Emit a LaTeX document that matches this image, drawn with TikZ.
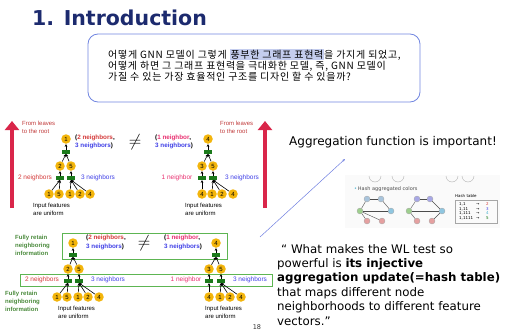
\documentclass[tikz,border=0pt]{standalone}
\usepackage{fontspec}
\setmainfont{DejaVu Sans}
\newfontfamily\arialfont{Liberation Sans}
\newfontfamily\kofont[LetterSpace=7]{Noto Sans CJK KR}
\usetikzlibrary{arrows.meta}
\definecolor{titlenavy}{HTML}{1C2A6E}
\definecolor{boxblue}{HTML}{7186E0}
\definecolor{hlblue}{HTML}{C4CDEE}
\definecolor{arrowred}{HTML}{D9264A}
\definecolor{txtred}{HTML}{C03A3A}
\definecolor{nbred}{HTML}{D43A3A}
\definecolor{nbblue}{HTML}{3F3FE6}
\definecolor{nbpink}{HTML}{E83070}
\definecolor{fgold}{HTML}{F3B50C}
\definecolor{barg}{HTML}{1B7A1B}
\definecolor{boxgreen}{HTML}{5DB552}
\definecolor{txtgreen}{HTML}{4A8A3C}
\definecolor{lineblue}{HTML}{6F7FE0}
\definecolor{wlcyan}{HTML}{4AB3D0}
\definecolor{wlblue}{HTML}{A8C4DC}
\definecolor{wlblue2}{HTML}{8FC6E0}
\definecolor{wlgreen}{HTML}{9ECF8E}
\definecolor{wlred}{HTML}{E5A0A0}
\definecolor{wlpurple}{HTML}{A8A8E6}

\newcommand{\hlkr}[1]{{\fboxsep=0.8pt\colorbox{hlblue}{#1}}}

\tikzset{
  fnode/.style={circle, fill=fgold, inner sep=0pt, minimum size=9.5pt, font=\arialfont\fontsize{6}{6}\selectfont},
  aggbar/.style={rectangle, fill=barg, inner sep=0pt, minimum width=8.5pt, minimum height=3.5pt},
  feed/.style={-{Stealth[length=3pt,width=2.6pt]}, line width=0.6pt, black},
  nblabel/.style={font=\arialfont\fontsize{6.5}{7}\selectfont, inner sep=0pt},
  pairlabel/.style={font=\arialfont\bfseries\fontsize{6.3}{8.5}\selectfont, align=left, inner sep=0pt, anchor=west},
  smallnote/.style={font=\arialfont\fontsize{6}{8}\selectfont, align=left, inner sep=0pt, anchor=west},
  retainnote/.style={font=\arialfont\bfseries\fontsize{6}{8}\selectfont, text=txtgreen, align=left, inner sep=0pt, anchor=west},
  bigarrow/.style={arrowred, line width=4pt, -{Triangle[length=9pt,width=14pt]}},
  greenframe/.style={draw=boxgreen, line width=0.9pt},
  neqsign/.style={font=\fontsize{17}{17}\selectfont, inner sep=0pt},
  wlnode/.style={circle, draw=gray!70, line width=0.3pt, inner sep=0pt, minimum size=6pt},
  wledge/.style={gray!60!black, line width=0.4pt},
  hashtext/.style={anchor=west, inner sep=0pt, font=\fontsize{4}{4.5}\selectfont},
}

\begin{document}
\begin{tikzpicture}[x=1pt, y=-1pt]
\useasboundingbox (0,0) rectangle (507,332);

% Title
\node[anchor=west, inner sep=0pt, text=titlenavy, font=\bfseries\fontsize{20.5}{22}\selectfont] (title) at (32,18) {1. Introduction};

% Question box
\draw[boxblue, line width=0.8pt, rounded corners=10pt] (88,34) rectangle (420,102);
\node[anchor=north west, inner sep=0pt, align=left, font=\kofont\fontsize{10}{10}\selectfont] (question) at (108,49)
  {어떻게 GNN 모델이 그렇게 \hlkr{풍부한 그래프 표현력}을 가지게 되었고,\\
   어떻게 하면 그 그래프 표현력을 극대화한 모델, 즉, GNN 모델이\\
   가질 수 있는 가장 효율적인 구조를 디자인 할 수 있을까?};

% --- Top: two trees ---
\coordinate (upL0) at (12,208);
\coordinate (upL1) at (12,121);
\coordinate (upR0) at (265,208);
\coordinate (upR1) at (265,121);
\draw[bigarrow] (upL0) -- (upL1);
\draw[bigarrow] (upR0) -- (upR1);
\node[smallnote, text=txtred] (leavesL) at (22,127.5) {From leaves\\to the root};
\node[smallnote, text=txtred] (leavesR) at (220,127.5) {From leaves\\to the root};

% left tree
\node[fnode] (a1) at (66,139) {1};
\node[aggbar] (ab0) at (66,152) {};
\node[fnode] (a2) at (60,166) {2};
\node[fnode] (a5) at (71,166) {5};
\node[aggbar] (ab2) at (60,178) {};
\node[aggbar] (ab5) at (71,178) {};
\foreach \x/\v [count=\i] in {49/1,59/5,70/1,80/2,90/4}
  \node[fnode] (al\i) at (\x,194) {\v};
\draw[feed] (ab0) -- (a1);
\draw[feed] (ab2) -- (a2);
\draw[feed] (ab5) -- (a5);
\foreach \c in {a2,a5} \draw[feed] (\c) -- (ab0.south);
\foreach \i in {1,2} \draw[feed] (al\i) -- (ab2.south);
\foreach \i in {3,4,5} \draw[feed] (al\i) -- (ab5.south);

% right tree
\node[fnode] (b4) at (208,139) {4};
\node[aggbar] (bb0) at (208,152) {};
\node[fnode] (b3) at (202,166) {3};
\node[fnode] (b5) at (213,166) {5};
\node[aggbar] (bb3) at (202,178) {};
\node[aggbar] (bb5) at (213,178) {};
\foreach \x/\v [count=\i] in {202/4,212/1,222/2,233/4}
  \node[fnode] (bl\i) at (\x,194) {\v};
\draw[feed] (bb0) -- (b4);
\draw[feed] (bb3) -- (b3);
\draw[feed] (bb5) -- (b5);
\foreach \c in {b3,b5} \draw[feed] (\c) -- (bb0.south);
\draw[feed] (bl1) -- (bb3.south);
\foreach \i in {2,3,4} \draw[feed] (bl\i) -- (bb5.south);

\node[nblabel, text=nbred] (a2n) at (35,178) {2 neighbors};
\node[nblabel, text=nbblue] (a3n) at (98,178) {3 neighbors};
\node[nblabel, text=nbpink] (b1n) at (177,178) {1 neighbor};
\node[nblabel, text=nbblue] (b3n) at (242,178) {3 neighbors};
\node[pairlabel] (pairA) at (75,142) {(\textcolor{nbred}{2 neighbors},\\\textcolor{nbblue}{3 neighbors})};
\node[neqsign] (neqA) at (135,142) {$\neq$};
\node[pairlabel] (pairB) at (155,142) {(\textcolor{nbpink}{1 neighbor},\\\textcolor{nbblue}{3 neighbors})};
\node[smallnote] (inA) at (33,209) {Input features\\are uniform};
\node[smallnote] (inB) at (185,209) {Input features\\are uniform};

% --- Bottom: fully retained trees ---
\draw[greenframe] (62,233) rectangle (227,259);
\draw[greenframe] (20,274) rectangle (272,286);

% left tree
\node[fnode] (c1) at (73,243) {1};
\node[aggbar] (cb0) at (73,255) {};
\node[fnode] (c2) at (68,269) {2};
\node[fnode] (c5) at (79,269) {5};
\node[aggbar] (cb2) at (68,281) {};
\node[aggbar] (cb5) at (79,281) {};
\foreach \x/\v [count=\i] in {57/1,67/5,78/1,88/2,99/4}
  \node[fnode] (cl\i) at (\x,297) {\v};
\draw[feed] (cb0) -- (c1);
\draw[feed] (cb2) -- (c2);
\draw[feed] (cb5) -- (c5);
\foreach \c in {c2,c5} \draw[feed] (\c) -- (cb0.south);
\foreach \i in {1,2} \draw[feed] (cl\i) -- (cb2.south);
\foreach \i in {3,4,5} \draw[feed] (cl\i) -- (cb5.south);

% right tree
\node[fnode] (d4) at (216,243) {4};
\node[aggbar] (db0) at (216,255) {};
\node[fnode] (d3) at (209,269) {3};
\node[fnode] (d5) at (221,269) {5};
\node[aggbar] (db3) at (209,281) {};
\node[aggbar] (db5) at (221,281) {};
\foreach \x/\v [count=\i] in {209/4,220/1,230/2,241/4}
  \node[fnode] (dl\i) at (\x,297) {\v};
\draw[feed] (db0) -- (d4);
\draw[feed] (db3) -- (d3);
\draw[feed] (db5) -- (d5);
\foreach \c in {d3,d5} \draw[feed] (\c) -- (db0.south);
\draw[feed] (dl1) -- (db3.south);
\foreach \i in {2,3,4} \draw[feed] (dl\i) -- (db5.south);

\node[pairlabel] (pairC) at (86,242.5) {(\textcolor{nbred}{2 neighbors},\\\textcolor{nbblue}{3 neighbors})};
\node[neqsign] (neqC) at (144,243) {$\neq$};
\node[pairlabel] (pairD) at (164,242.5) {(\textcolor{nbpink}{1 neighbor},\\\textcolor{nbblue}{3 neighbors})};
\node[nblabel, text=nbred] (c2n) at (42,280) {2 neighbors};
\node[nblabel, text=nbblue] (c3n) at (108,280) {3 neighbors};
\node[nblabel, text=nbpink] (d1n) at (186,280) {1 neighbor};
\node[nblabel, text=nbblue] (d3n) at (250,280) {3 neighbors};
\node[retainnote] (retainA) at (15,245) {Fully retain\\neighboring\\information};
\node[retainnote] (retainB) at (5,301) {Fully retain\\neighboring\\information};
\node[smallnote] (inC) at (58,312) {Input features\\are uniform};
\node[smallnote] (inD) at (205,312) {Input features\\are uniform};
\node[inner sep=0pt, text=black!80, font=\fontsize{6.5}{7}\selectfont] (pagenum) at (257,327) {18};

% --- Right side ---
\node[anchor=west, inner sep=0pt, font=\fontsize{12}{14}\selectfont] (aggtitle) at (289,142) {Aggregation function is important!};
\coordinate (pointA) at (260,237);
\coordinate (pointB) at (345,159);
\draw[lineblue, line width=0.5pt, -{Stealth[length=3pt,width=2.4pt]}] (pointA) -- (pointB);

% WL picture
\fill[gray!4] (345,175) rectangle (500,228);
\foreach \x in {375,398,452,468}
  \draw[gray!60, line width=0.4pt] (\x-6,176) arc[start angle=180, end angle=0, radius=6];
\node[anchor=west, inner sep=0pt, text=gray!60!black, font=\fontsize{5}{5}\selectfont] (hashcap) at (354,189) {\textcolor{wlcyan}{\textbullet}\,Hash aggregated colors};

\node[wlnode, fill=wlblue] (g1a) at (367,199) {};
\node[wlnode, fill=wlblue] (g1b) at (381,199) {};
\node[wlnode, fill=wlgreen] (g1c) at (360,211) {};
\node[wlnode, fill=wlblue2] (g1d) at (391,211) {};
\node[wlnode, fill=wlred] (g1e) at (367,221) {};
\node[wlnode, fill=wlred] (g1f) at (382,221) {};
\foreach \p/\q in {g1a/g1b,g1a/g1c,g1b/g1d,g1c/g1d,g1c/g1e,g1c/g1f}
  \draw[wledge] (\p) -- (\q);

\node[wlnode, fill=wlpurple] (g2a) at (417,199) {};
\node[wlnode, fill=wlpurple] (g2b) at (430,199) {};
\node[wlnode, fill=wlgreen] (g2c) at (409,211) {};
\node[wlnode, fill=wlblue2] (g2d) at (442,211) {};
\node[wlnode, fill=wlred] (g2e) at (417,221) {};
\node[wlnode, fill=wlred] (g2f) at (432,221) {};
\foreach \p/\q in {g2a/g2b,g2a/g2c,g2b/g2d,g2c/g2d,g2c/g2e,g2d/g2f}
  \draw[wledge] (\p) -- (\q);

\node[hashtext] (htitle) at (455,196) {Hash table};
\draw[gray!70, line width=0.4pt] (455,200) rectangle (497,223);
\foreach \k/\v/\c [count=\i] in {{1,1}/2/nbred,{1,11}/3/nbblue,{1,111}/4/wlcyan,{1,1111}/5/barg} {
  \node[hashtext] (hk\i) at (459,200+4.5*\i) {\k};
  \node[hashtext] (ha\i) at (476,200+4.5*\i) {→};
  \node[hashtext, text=\c] (hv\i) at (486,200+4.5*\i) {\v};
}

% Quote
\node[anchor=north west, inner sep=0pt, align=left, font=\fontsize{11.8}{14.4}\selectfont] (quote) at (277,244)
  {\hspace{4pt}“ What makes the WL test so\\
   powerful is \textbf{its injective}\\
   \textbf{aggregation update(=hash table)}\\
   that maps different node\\
   neighborhoods to different feature\\
   vectors.”};

\end{tikzpicture}
\end{document}
